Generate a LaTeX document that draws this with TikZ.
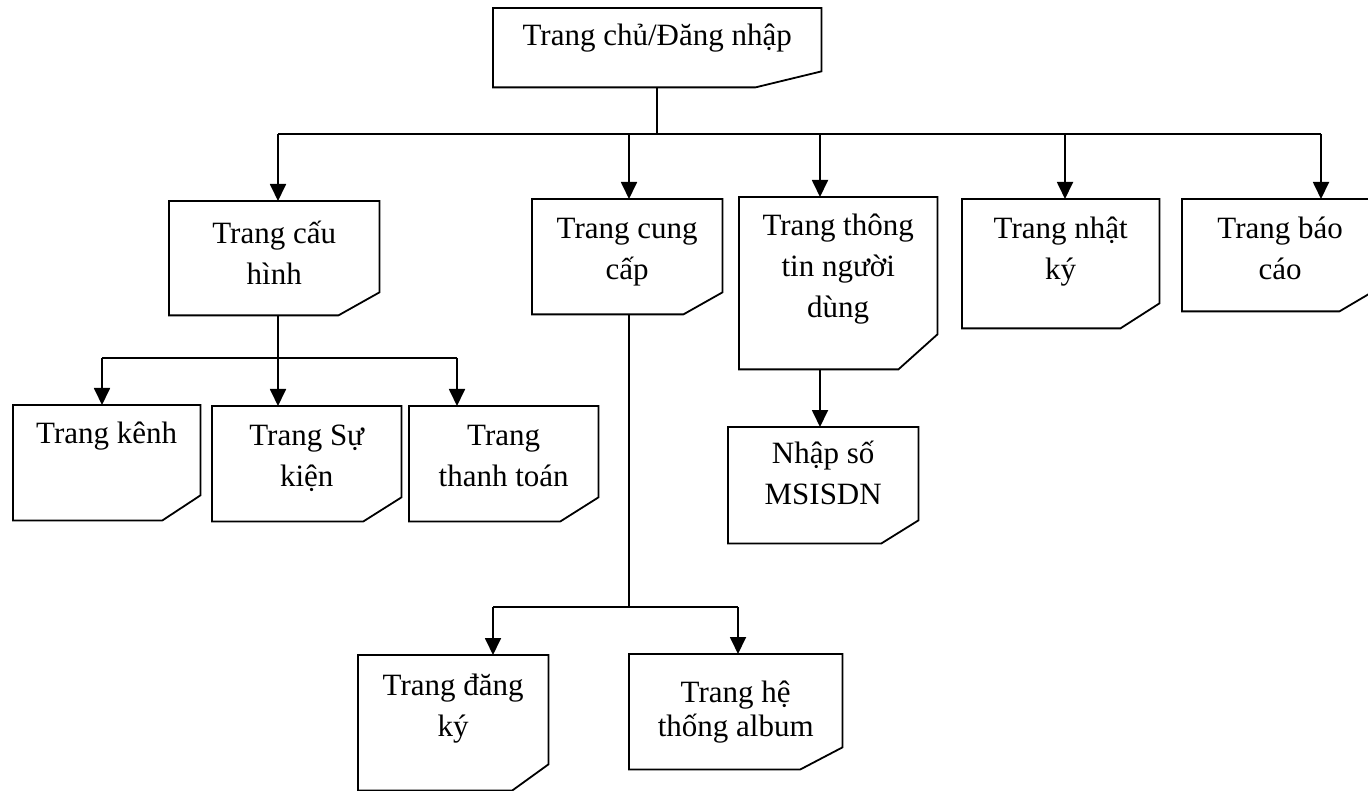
\documentclass[tikz,border=0pt]{standalone}
\usepackage{fontspec}
\setmainfont{Liberation Serif}
\usetikzlibrary{arrows.meta}
% page box: width, height, first-baseline offset, text
\newcommand\pg[4]{\parbox[c][#2pt][t]{#1pt}{\centering\vspace*{\dimexpr#3pt-32pt\relax}\rule{0pt}{32pt}#4\par}}
\begin{document}
\begin{tikzpicture}[x=1pt,y=-1pt,
  every node/.style={font=\fontsize{31pt}{41pt}\selectfont, inner sep=0pt, anchor=north west},
  outline/.style={draw, line width=1.8pt, line join=miter},
  link/.style={line width=1.8pt},
  arr/.style={link, -{Triangle[length=17pt,width=16pt]}}]
\useasboundingbox (0,0) rectangle (1368,791);
\clip (0,0) rectangle (1368,791);

% pages
\node (home)   at (493,8)   {\pg{328}{79}{37}{Trang chủ/Đăng nhập}};
\node (cfg)    at (169,201) {\pg{210}{114}{42}{Trang cấu\\hình}};
\node (supply) at (532,199) {\pg{190}{115}{39}{Trang cung\\cấp}};
\node (user)   at (739,197) {\pg{198}{172}{38}{Trang thông\\tin người\\dùng}};
\node (log)    at (962,199) {\pg{197}{129}{39}{Trang nhật\\ký}};
\node (report) at (1182,199){\pg{196}{112}{39}{Trang báo\\cáo}};
\node (chan)   at (13,405)  {\pg{187}{115}{38}{Trang kênh}};
\node (event)  at (212,406) {\pg{189}{115}{39}{Trang Sự\\kiện}};
\node (pay)    at (409,406) {\pg{189}{115}{39}{Trang\\thanh toán}};
\node (msisdn) at (728,427) {\pg{190}{116}{36}{Nhập số\\MSISDN}};
\node (reg)    at (358,655) {\pg{190}{135}{40}{Trang đăng\\ký}};
\node (album)  at (629,654) {\pg{213}{115}{48}{Trang hệ\\[-7pt]thống album}};

% outlines with a cut bottom-right corner
\foreach \n/\cx/\cy in {home/66/16, cfg/41/23, supply/39/22, user/39/35, log/39/25,
    report/39/23, chan/38/25, event/38/24, pay/38/24, msisdn/37/23, reg/36/26, album/42/22}
  \draw[outline] (\n.north west) -- (\n.north east) -- ([yshift=\cy pt]\n.south east)
     -- ([xshift=-\cx pt]\n.south east) -- (\n.south west) -- cycle;

% first level
\coordinate (b1) at (278,134);
\coordinate (b2) at (629,134);
\coordinate (b3) at (820,134);
\coordinate (b4) at (1065,134);
\coordinate (b5) at (1321,134);
\draw[link] (home.south) -- (home.south |- b1);
\draw[link] (b1) -- (b5);
\draw[arr] (b1) -- (b1 |- cfg.north);
\draw[arr] (b2) -- (b2 |- supply.north);
\draw[arr] (b3) -- (b3 |- user.north);
\draw[arr] (b4) -- (b4 |- log.north);
\draw[arr] (b5) -- (b5 |- report.north);

% configuration pages
\coordinate (c1) at (102,358);
\coordinate (c2) at (278,358);
\coordinate (c3) at (457,358);
\draw[link] (cfg.south -| c2) -- (c2);
\draw[link] (c1) -- (c3);
\draw[arr] (c1) -- (c1 |- chan.north);
\draw[arr] (c2) -- (c2 |- event.north);
\draw[arr] (c3) -- (c3 |- pay.north);

% supply pages
\coordinate (s0) at (629,607);
\coordinate (s1) at (493,607);
\coordinate (s2) at (738,607);
\draw[link] (supply.south -| s0) -- (s0);
\draw[link] (s1) -- (s2);
\draw[arr] (s1) -- (s1 |- reg.north);
\draw[arr] (s2) -- (s2 |- album.north);

% user info
\coordinate (u0) at (820,0);
\draw[arr] (user.south -| u0) -- (msisdn.north -| u0);
\end{tikzpicture}
\end{document}
